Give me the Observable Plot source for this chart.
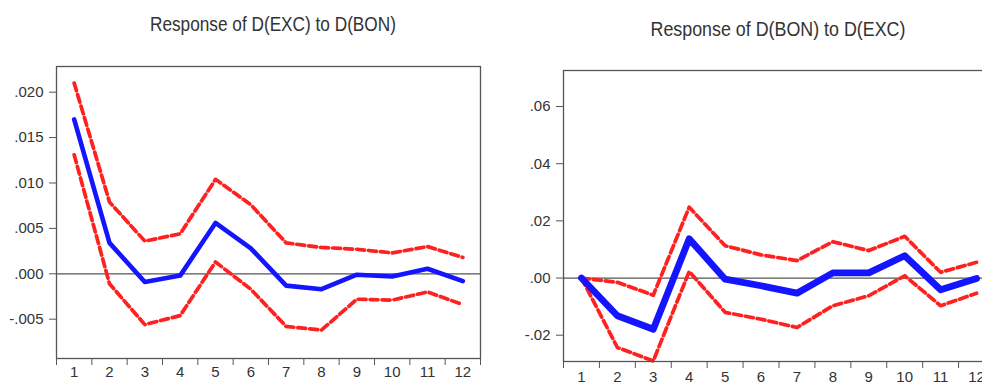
<!DOCTYPE html>
<html>
<head>
<meta charset="utf-8">
<script src="https://cdn.jsdelivr.net/npm/d3@7"></script>
<script src="https://cdn.jsdelivr.net/npm/@observablehq/plot@0.6"></script>
<style>
  html, body { margin: 0; padding: 0; background: #fff; }
  #root { position: relative; width: 982px; height: 387px; overflow: hidden; background: #fff; }
  .panel { position: absolute; top: 0; }
  .title { position: absolute; font-family: "Liberation Sans", Arial, sans-serif; font-size: 21px; line-height: 21px; color: #333; white-space: nowrap; transform-origin: center top; }
</style>
</head>
<body>
<div id="root"></div>
<script>
// ---------- data ----------
const periods = [1, 2, 3, 4, 5, 6, 7, 8, 9, 10, 11, 12];

const titleLeft = "Response of D(EXC) to D(BON)";
const titleRight = "Response of D(BON) to D(EXC)";

// Response of D(EXC) to D(BON)
const excResp  = [0.0170, 0.0034, -0.0009, -0.0002, 0.0056, 0.0028, -0.0013, -0.0017, -0.0001, -0.0003, 0.00055, -0.0008];
const excUpper = [0.0210, 0.0079, 0.0036, 0.0044, 0.0104, 0.0076, 0.0034, 0.0029, 0.0027, 0.0023, 0.0030, 0.0018];
const excLower = [0.0131, -0.0011, -0.0056, -0.0046, 0.0013, -0.0017, -0.0058, -0.0062, -0.0028, -0.0029, -0.0020, -0.0034];
const leftYTicks = [-0.005, 0.000, 0.005, 0.010, 0.015, 0.020];

// Response of D(BON) to D(EXC)
const bonResp  = [0.0000, -0.0132, -0.0179, 0.0137, -0.0004, -0.0027, -0.0053, 0.0018, 0.0018, 0.0078, -0.0041, -0.0002];
const bonUpper = [0.0000, -0.0015, -0.0060, 0.0248, 0.0113, 0.0081, 0.0061, 0.0127, 0.0096, 0.0146, 0.0020, 0.0055];
const bonLower = [0.0000, -0.0243, -0.0290, 0.0023, -0.0120, -0.0144, -0.0173, -0.0097, -0.0062, 0.0008, -0.0097, -0.0053];
const rightYTicks = [-0.02, 0.00, 0.02, 0.04, 0.06];

// ---------- drawing ----------
const BLUE = "#1414ff";
const RED = "#ff2020";
const AXIS = "#555";
const boundaries = d3.range(0.5, 13, 1);

function stripZero(digits) {
  const f = d3.format(`.${digits}f`);
  return v => f(v).replace("−", "-").replace(/^(-?)0\./, "$1.");
}

function panel({resp, upper, lower, yDomain, yTicks, digits, width, marginLeft, marginTop, marginBottom, blueWidth, xPad, yPad}) {
  return Plot.plot({
    width, height: 387,
    marginLeft, marginRight: 2, marginTop, marginBottom,
    x: {domain: [0.5, 12.5], label: null},
    y: {domain: yDomain, label: null},
    style: {fontFamily: "Liberation Sans, Arial, sans-serif", fontSize: "15px", color: "#333", background: "transparent", overflow: "visible"},
    marks: [
      Plot.ruleY([0], {stroke: AXIS, strokeWidth: 1.2}),
      Plot.lineY(upper, {x: periods, stroke: RED, strokeWidth: 3.7, strokeDasharray: "8,4"}),
      Plot.lineY(lower, {x: periods, stroke: RED, strokeWidth: 3.7, strokeDasharray: "8,4"}),
      Plot.lineY(resp, {x: periods, stroke: BLUE, strokeWidth: blueWidth}),
      Plot.frame({stroke: AXIS, strokeWidth: 1.3}),
      Plot.axisY(yTicks, {tickSize: 7, tickPadding: yPad, tickFormat: stripZero(digits), stroke: AXIS, fill: "#333", fontSize: 15, label: null}),
      Plot.axisX(boundaries, {tickSize: 7, tickFormat: () => "", stroke: AXIS, label: null}),
      Plot.axisX(periods, {tickSize: 0, tickPadding: xPad, fill: "#333", fontSize: 15, label: null})
    ]
  });
}

const root = document.getElementById("root");

const left = panel({
  resp: excResp, upper: excUpper, lower: excLower,
  yDomain: [-0.00933, 0.02283], yTicks: leftYTicks, digits: 3,
  width: 482, marginLeft: 56, marginTop: 66, marginBottom: 29,
  blueWidth: 4.6, xPad: 8, yPad: 6
});
left.classList.add("panel");
left.style.left = "0px";
root.appendChild(left);

const right = panel({
  resp: bonResp, upper: bonUpper, lower: bonLower,
  yDomain: [-0.0292, 0.0726], yTicks: rightYTicks, digits: 2,
  width: 496, marginLeft: 63, marginTop: 70, marginBottom: 26,
  blueWidth: 6.8, xPad: 10, yPad: 6
});
right.classList.add("panel");
right.style.left = "500px";
root.appendChild(right);

function addTitle(text, cx, top, scale) {
  const d = document.createElement("div");
  d.className = "title";
  d.textContent = text;
  root.appendChild(d);
  const w = d.getBoundingClientRect().width;
  d.style.left = (cx - w / 2) + "px";
  d.style.top = top + "px";
  d.style.transform = `scaleX(${scale})`;
}
addTitle(titleLeft, 272.7, 12.5, 0.82);
addTitle(titleRight, 778, 17.7, 0.85);
</script>
</body>
</html>
